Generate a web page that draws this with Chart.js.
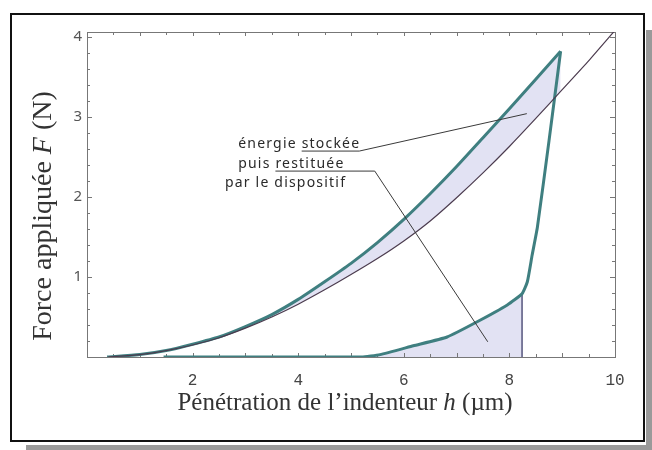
<!DOCTYPE html>
<html>
<head>
<meta charset="utf-8">
<script src="https://cdn.jsdelivr.net/npm/chart.js@4"></script>
<style>
  body { margin: 0; background: #fff; }
  canvas { display: block; }
</style>
</head>
<body>
<canvas id="chart" width="652" height="450"></canvas>
<script>
// loading curve (measured), h in µm, F in N
const loadH = [0.38, 1.0, 1.5, 2.0, 2.5, 3.0, 3.5, 4.0, 4.5, 5.0, 5.5, 6.0, 6.5, 7.0, 7.5, 8.0, 8.5, 8.97];
const loadF = [0.00, 0.03, 0.08, 0.16, 0.25, 0.38, 0.53, 0.72, 0.94, 1.17, 1.43, 1.72, 2.04, 2.38, 2.74, 3.10, 3.47, 3.82];
// thin reference curve
const modelH = [0.4, 1.0, 1.5, 2.0, 2.5, 3.0, 3.5, 4.0, 4.5, 5.0, 5.5, 6.0, 6.5, 7.0, 7.5, 8.0, 8.5, 9.0, 9.5, 10.0];
const modelF = [0.00, 0.03, 0.08, 0.15, 0.24, 0.36, 0.50, 0.66, 0.84, 1.03, 1.23, 1.45, 1.70, 1.99, 2.30, 2.63, 2.98, 3.34, 3.70, 4.08];
// unloading curve, from the peak back to the axis
const unloadH = [8.97, 8.75, 8.53, 8.43, 8.34, 8.24, 7.96, 7.39, 6.82, 6.18, 5.55, 5.20, 1.45];
const unloadF = [3.82, 2.70, 1.62, 1.27, 0.94, 0.79, 0.65, 0.44, 0.25, 0.14, 0.03, 0.00, 0.00];
const kneeH = 8.24;

const xTicks = [2, 4, 6, 8, 10];
const yTicks = [1, 2, 3, 4];
const noteText = [['énergie ', 'stockée'], ['puis ', 'restituée'], ['par le dispositif', '']];

const teal = '#3f7f80';
const lavender = '#e2e2f3';

function pts(hs, fs) {
    return hs.map(function (h, i) { return { x: h, y: fs[i] }; });
}

const unloadPts = pts(unloadH, unloadF);
const restPts = unloadPts.filter(function (p) { return p.x <= kneeH; }).sort(function (a, b) { return a.x - b.x; });
const knee = unloadPts.find(function (p) { return p.x === kneeH; });

// page frame + shadow
const framePlugin = {
    id: 'framePlugin',
    beforeDraw(chart) {
        const c = chart.ctx;
        c.save();
        c.fillStyle = '#fff';
        c.fillRect(0, 0, chart.width, chart.height);
        c.fillStyle = '#9a9a9a';
        c.fillRect(646, 30, 6, 420);
        c.fillRect(26, 445, 626, 5);
        c.strokeStyle = '#111';
        c.lineWidth = 2;
        c.strokeRect(11, 14, 633, 427);
        c.restore();
    },
    beforeDatasetsDraw(chart) {
        // box around plot and inward ticks on all four sides
        const c = chart.ctx, a = chart.chartArea, x = chart.scales.x, y = chart.scales.y;
        c.save();
        c.strokeStyle = '#777';
        c.lineWidth = 1;
        c.beginPath();
        for (let i = 1; i < 20; i++) {
            const px = Math.round(x.getPixelForValue(i * 0.5)) + 0.5;
            const len = i % 2 === 0 ? 4 : 3;
            c.moveTo(px, a.bottom); c.lineTo(px, a.bottom - len);
            c.moveTo(px, a.top); c.lineTo(px, a.top + len);
        }
        for (let i = 1; i <= 20; i++) {
            const py = Math.round(y.getPixelForValue(i * 0.2)) + 0.5;
            const len = i % 5 === 0 ? 5 : 3;
            c.moveTo(a.left, py); c.lineTo(a.left + len, py);
            c.moveTo(a.right, py); c.lineTo(a.right - len, py);
        }
        c.stroke();
        c.strokeRect(a.left + 0.5, a.top + 0.5, a.right - a.left, a.bottom - a.top);
        c.restore();
    },
    afterDraw(chart) {
        // axis titles with italic symbols
        const c = chart.ctx;
        function mixed(parts, size, cx, cy) {
            const fonts = parts.map(function (p) { return (p[1] ? 'italic ' : '') + size + 'px "Liberation Serif"'; });
            let total = 0;
            const widths = parts.map(function (p, i) { c.font = fonts[i]; const w = c.measureText(p[0]).width; total += w; return w; });
            let x0 = cx - total / 2;
            parts.forEach(function (p, i) {
                c.font = fonts[i];
                c.fillText(p[0], x0, cy);
                x0 += widths[i];
            });
        }
        c.save();
        c.fillStyle = '#333';
        c.textBaseline = 'middle';
        c.textAlign = 'left';
        mixed([['Pénétration de l’indenteur ', false], ['h', true], [' (µm)', false]], 25, 345, 403);
        c.translate(44, 216);
        c.rotate(-Math.PI / 2);
        mixed([['Force appliquée ', false], ['F', true], [' (N)', false]], 28, 0, 0);
        c.restore();
    }
};

// "énergie stockée puis restituée" note with leader lines
const notePlugin = {
    id: 'notePlugin',
    afterDatasetsDraw(chart) {
        const c = chart.ctx, x = chart.scales.x, y = chart.scales.y;
        const centers = [[4.02, 2.61], [3.87, 2.36], [3.76, 2.125]];
        c.save();
        c.font = '14px "Noto Sans"';
        c.letterSpacing = '1.2px';
        c.fillStyle = '#2a2a2a';
        c.strokeStyle = '#3a3a3a';
        c.lineWidth = 1;
        c.textBaseline = 'alphabetic';
        c.textAlign = 'left';
        const ends = [];
        noteText.forEach(function (t, i) {
            const pre = c.measureText(t[0]).width;
            const word = c.measureText(t[1]).width;
            const cx = x.getPixelForValue(centers[i][0]);
            const by = y.getPixelForValue(centers[i][1]);
            const x0 = cx - (pre + word) / 2;
            c.fillText(t[0] + t[1], x0, by);
            ends.push({ start: x0 + pre, end: x0 + pre + word - 1, y: by + 3 });
        });
        c.beginPath();
        // stockée -> stored area
        c.moveTo(ends[0].start, ends[0].y);
        c.lineTo(ends[0].end, ends[0].y);
        c.lineTo(x.getPixelForValue(8.33), y.getPixelForValue(3.04));
        // restituée -> restored area
        c.moveTo(ends[1].start, ends[1].y);
        c.lineTo(x.getPixelForValue(5.45), ends[1].y);
        c.lineTo(x.getPixelForValue(7.59), y.getPixelForValue(0.19));
        c.stroke();
        c.restore();
    }
};

new Chart(document.getElementById('chart'), {
    type: 'line',
    data: {
        datasets: [{
            data: pts(loadH, loadF),
            borderColor: teal,
            borderWidth: 3,
            tension: 0.2,
            fill: { target: 1, above: lavender, below: 'rgba(0,0,0,0)' },
            order: 1
        }, {
            data: pts(modelH, modelF),
            borderColor: '#4b3b4e',
            borderWidth: 1.2,
            tension: 0.2,
            fill: false,
            order: 0
        }, {
            data: unloadPts,
            borderColor: teal,
            borderWidth: 3,
            tension: 0.15,
            fill: false,
            order: 1
        }, {
            data: restPts,
            borderWidth: 0,
            borderColor: 'rgba(0,0,0,0)',
            backgroundColor: lavender,
            tension: 0.15,
            fill: 'origin',
            order: 2
        }, {
            data: [knee, { x: kneeH, y: 0 }],
            borderColor: '#6b6b8e',
            borderWidth: 1,
            fill: false,
            order: 1
        }]
    },
    options: {
        responsive: false,
        animation: false,
        events: [],
        elements: { point: { radius: 0 } },
        layout: { padding: { top: 32, right: 37, bottom: 0, left: 0 } },
        plugins: {
            legend: { display: false },
            tooltip: { enabled: false },
            filler: { drawTime: 'beforeDatasetsDraw' }
        },
        scales: {
            x: {
                type: 'linear',
                min: 0,
                max: 10,
                grid: { display: false, drawTicks: false },
                border: { display: false },
                afterBuildTicks: function (s) { s.ticks = xTicks.map(function (v) { return { value: v }; }); },
                afterFit: function (s) { s.height = 93; },
                ticks: {
                    padding: 14,
                    color: '#444',
                    font: { family: 'Liberation Mono', size: 16 }
                }
            },
            y: {
                min: 0,
                max: 4.06,
                grid: { display: false, drawTicks: false },
                border: { display: false },
                afterBuildTicks: function (s) { s.ticks = yTicks.map(function (v) { return { value: v }; }); },
                afterFit: function (s) { s.width = 87; },
                ticks: {
                    padding: 5,
                    color: '#555',
                    font: { family: 'Noto Sans', size: 15 }
                }
            }
        }
    },
    plugins: [framePlugin, notePlugin]
});
</script>
</body>
</html>
